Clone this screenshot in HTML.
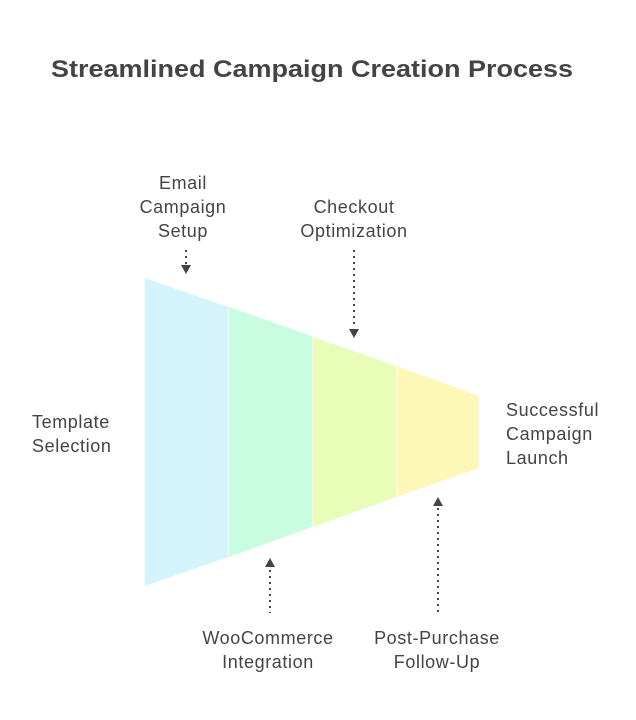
<!DOCTYPE html>
<html><head><meta charset="utf-8"><style>
html,body{margin:0;padding:0;background:#fff;}
svg{display:block;}
text{font-family:"Liberation Sans",sans-serif;fill:#444;font-size:18px;letter-spacing:0.6px;}
</style></head><body>
<svg width="636" height="720" viewBox="0 0 636 720">
<text x="312" y="77" text-anchor="middle" textLength="522" lengthAdjust="spacingAndGlyphs" style="letter-spacing:0;font-size:24px;font-weight:bold">Streamlined Campaign Creation Process</text>
<polygon points="145,278 228,307 228,557 145,586" fill="#d4f3fc"/>
<polygon points="229,307 312,336 312,527 229,557" fill="#c9fde2"/>
<polygon points="313,337 396,366 396,497 313,527" fill="#e8fdb8"/>
<polygon points="397,366 479,396 479,468 397,497" fill="#fef8b8"/>
<g stroke="#444" stroke-width="2" stroke-dasharray="2,4">
<line x1="186" y1="250" x2="186" y2="265"/>
<line x1="354" y1="250" x2="354" y2="328"/>
<line x1="270" y1="570" x2="270" y2="613"/>
<line x1="438" y1="508" x2="438" y2="613"/>
</g>
<g fill="#444">
<polygon points="181,265 191,265 186,274"/>
<polygon points="349,329 359,329 354,338"/>
<polygon points="265,567 275,567 270,558"/>
<polygon points="433,506 443,506 438,497"/>
</g>
<text x="183" y="189" text-anchor="middle">Email</text>
<text x="183" y="213" text-anchor="middle">Campaign</text>
<text x="183" y="237" text-anchor="middle">Setup</text>
<text x="354" y="213" text-anchor="middle">Checkout</text>
<text x="354" y="237" text-anchor="middle">Optimization</text>
<text x="32" y="428">Template</text>
<text x="32" y="452">Selection</text>
<text x="506" y="416">Successful</text>
<text x="506" y="440">Campaign</text>
<text x="506" y="464">Launch</text>
<text x="268" y="644" text-anchor="middle">WooCommerce</text>
<text x="268" y="668" text-anchor="middle">Integration</text>
<text x="437" y="644" text-anchor="middle">Post-Purchase</text>
<text x="437" y="668" text-anchor="middle">Follow-Up</text>
</svg>
</body></html>
